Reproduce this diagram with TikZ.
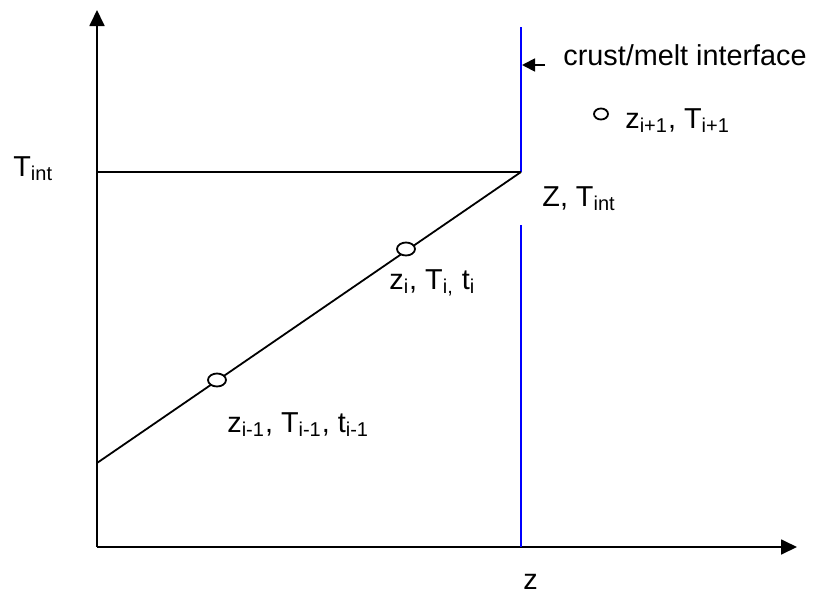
\documentclass[tikz,border=0pt]{standalone}
\usepackage{fontspec}
\setmainfont{Liberation Sans}
\usetikzlibrary{arrows.meta,shapes.geometric}

\begin{document}
\begin{tikzpicture}[x=0.5pt,y=-0.5pt, every node/.style={font=\Large,inner sep=0pt},
  >={Triangle[length=8pt,width=7.5pt]},
  axis/.style={line width=0.9pt},
  iface/.style={blue,line width=1pt},
  pt/.style={draw,fill=white,ellipse,minimum width=9pt,minimum height=6.5pt,line width=0.9pt},
  lbl/.style={anchor=base west}]
\useasboundingbox (0,0) rectangle (814,594);
% axes and interface
\coordinate (O) at (97,547);
\coordinate (ytop) at (97,10);
\coordinate (xend) at (797,547);
\coordinate (Ztop) at (521,27);
\coordinate (Zint) at (521,172);
\coordinate (Zgap) at (521,225);
\coordinate (Zbot) at (521,547);
\coordinate (Tint) at (97,172);
\coordinate (T0) at (97,463);
\draw[axis,->] (O) -- (ytop);
\draw[axis,->] (O) -- (xend);
\draw[iface] (Ztop) -- (Zint);
\draw[iface] (Zgap) -- (Zbot);
\draw[line width=0.9pt] (Tint) -- (Zint);
\draw[line width=0.9pt] (T0) -- (Zint);
% grid points
\node[pt] (pi) at (406,249) {};
\node[pt] (pim) at (217,380) {};
\node[pt,minimum width=7pt,minimum height=5.5pt] (pip) at (601,114) {};
% labels
\node[lbl] (ltint) at (13,176) {T\textsubscript{int}};
\node[lbl] (lZ) at (542,206) {Z, T\textsubscript{int}};
\node[lbl] (li) at (389,289) {z\textsubscript{i}, T\textsubscript{i,} t\textsubscript{i}};
\node[lbl] (lim) at (227,432) {z\textsubscript{i-1}, T\textsubscript{i-1}, t\textsubscript{i-1}};
\node[lbl] (lip) at (625,128) {z\textsubscript{i+1}, T\textsubscript{i+1}};
\node[lbl] (lcm) at (563,65) {crust/melt interface};
\node[lbl] (lz) at (523,589) {z};
\coordinate (ca) at (545,65);
\coordinate (cb) at (522,65);
\draw[line width=0.9pt,-{Triangle[length=6.5pt,width=6.5pt]}] (ca) -- (cb);
\end{tikzpicture}
\end{document}
